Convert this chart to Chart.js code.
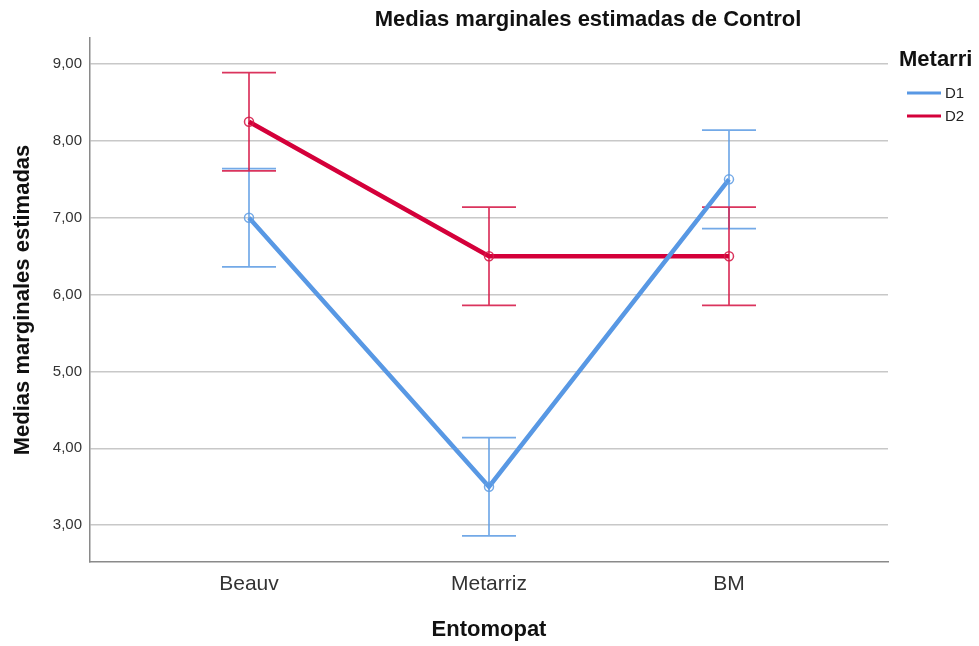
<!DOCTYPE html>
<html>
<head>
<meta charset="utf-8">
<script src="https://cdn.jsdelivr.net/npm/chart.js@4.4.1/dist/chart.umd.min.js"></script>
<style>
  html, body { margin: 0; padding: 0; background: #ffffff; }
  #wrap { width: 979px; height: 646px; position: relative; }
</style>
</head>
<body>
<div id="wrap"><canvas id="chart" width="979" height="646"></canvas></div>
<script>
// Categories of the factor "Entomopat"
const categories = ['Beauv', 'Metarriz', 'BM'];
// Estimated marginal means per level of "Metarri"
const seriesNames = ['D1', 'D2'];
const meansD1 = [7.0, 3.5, 7.5];
const meansD2 = [8.25, 6.5, 6.5];
// 95% confidence interval bounds
const lowerD1 = [6.36, 2.86, 6.86];
const upperD1 = [7.64, 4.14, 8.14];
const lowerD2 = [7.61, 5.86, 5.86];
const upperD2 = [8.89, 7.14, 7.14];
// Y tick values
const yTicks = [3, 4, 5, 6, 7, 8, 9];

const FONT = '"Liberation Sans", Arial, sans-serif';
const lineColors = ['rgb(88,152,228)', 'rgb(212,0,58)'];
const barColors = ['rgba(100,160,228,0.9)', 'rgba(214,30,75,0.9)'];

const toPoints = arr => arr.map((v, i) => ({ x: i, y: v }));

const ciData = [
  { lower: lowerD1, upper: upperD1 },
  { lower: lowerD2, upper: upperD2 }
];

// Draws the confidence interval whiskers through the chart scales
const errorBars = {
  id: 'errorBars',
  beforeDatasetsDraw(chart) {
    const { ctx, scales: { x, y } } = chart;
    ctx.save();
    ciData.forEach((ci, d) => {
      ctx.strokeStyle = barColors[d];
      ctx.lineWidth = 1.7;
      ci.lower.forEach((lo, i) => {
        const px = x.getPixelForValue(i);
        const pLo = y.getPixelForValue(lo);
        const pHi = y.getPixelForValue(ci.upper[i]);
        ctx.beginPath();
        ctx.moveTo(px, pLo); ctx.lineTo(px, pHi);
        ctx.moveTo(px - 27, pLo); ctx.lineTo(px + 27, pLo);
        ctx.moveTo(px - 27, pHi); ctx.lineTo(px + 27, pHi);
        ctx.stroke();
      });
    });
    ctx.restore();
  }
};

// Chart title and legend
const decorations = {
  id: 'decorations',
  afterDraw(chart) {
    const { ctx } = chart;
    ctx.save();
    ctx.fillStyle = '#111';
    ctx.font = 'bold 22px ' + FONT;
    ctx.textAlign = 'center';
    ctx.textBaseline = 'middle';
    ctx.fillText('Medias marginales estimadas de Control', 588, 20);

    ctx.textAlign = 'left';
    ctx.fillText('Metarri', 899, 60);
    ctx.font = '15px ' + FONT;
    seriesNames.forEach((name, i) => {
      const yy = 93 + i * 23;
      ctx.strokeStyle = lineColors[i];
      ctx.lineWidth = 3;
      ctx.beginPath();
      ctx.moveTo(907, yy); ctx.lineTo(941, yy);
      ctx.stroke();
      ctx.fillStyle = '#222';
      ctx.fillText(name, 945, yy + 1);
    });
    ctx.restore();
  }
};

new Chart(document.getElementById('chart'), {
  type: 'line',
  data: {
    datasets: [
      {
        label: seriesNames[0],
        data: toPoints(meansD1),
        borderColor: lineColors[0],
        borderWidth: 4.5,
        pointRadius: 4.5,
        pointBorderWidth: 1.5,
        pointBorderColor: barColors[0],
        pointBackgroundColor: 'rgba(0,0,0,0)',
        tension: 0
      },
      {
        label: seriesNames[1],
        data: toPoints(meansD2),
        borderColor: lineColors[1],
        borderWidth: 4.5,
        pointRadius: 4.5,
        pointBorderWidth: 1.5,
        pointBorderColor: barColors[1],
        pointBackgroundColor: 'rgba(0,0,0,0)',
        tension: 0
      }
    ]
  },
  options: {
    responsive: false,
    animation: false,
    devicePixelRatio: 1,
    layout: { padding: { top: 38, right: 91, bottom: 0, left: 0 } },
    plugins: {
      legend: { display: false },
      title: { display: false },
      tooltip: { enabled: false }
    },
    scales: {
      x: {
        type: 'linear',
        min: -0.6625,
        max: 2.6625,
        afterFit(scale) { scale.height = 84; },
        afterBuildTicks(scale) { scale.ticks = categories.map((_, i) => ({ value: i })); },
        grid: { display: false, drawTicks: false },
        border: { display: true, color: '#8a8a8a', width: 1.5 },
        ticks: {
          padding: 10,
          color: '#333',
          font: { size: 21, family: FONT },
          callback: v => categories[v]
        },
        title: {
          display: true,
          text: 'Entomopat',
          color: '#111',
          padding: { top: 0, bottom: 3 },
          font: { size: 22, weight: 'bold', family: FONT }
        }
      },
      y: {
        min: 2.52,
        max: 9.34,
        afterFit(scale) { scale.width = 90; },
        afterBuildTicks(scale) { scale.ticks = yTicks.map(v => ({ value: v })); },
        grid: { color: '#c8c8c8', lineWidth: 1.5, drawTicks: false },
        border: { display: true, color: '#8a8a8a', width: 1.5 },
        ticks: {
          padding: 8,
          color: '#333',
          font: { size: 15, family: FONT },
          callback: v => v.toFixed(2).replace('.', ',')
        },
        title: {
          display: true,
          text: 'Medias marginales estimadas',
          color: '#111',
          padding: { top: 10, bottom: 0 },
          font: { size: 22, weight: 'bold', family: FONT }
        }
      }
    }
  },
  plugins: [errorBars, decorations]
});
</script>
</body>
</html>
